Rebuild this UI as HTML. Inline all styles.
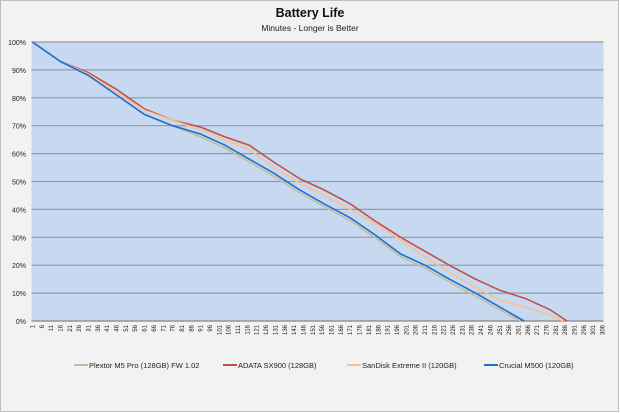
<!DOCTYPE html>
<html><head><meta charset="utf-8"><style>
body{margin:0;background:#fff;}
svg{display:block;font-family:"Liberation Sans",sans-serif;}
</style></head><body>
<svg width="620" height="413">
<rect x="0.5" y="0.5" width="618" height="411" fill="#f2f2f2" stroke="#bdbdbd"/>
<text x="310" y="17" text-anchor="middle" font-size="12.5" font-weight="bold" fill="#111">Battery Life</text>
<text x="310" y="31" text-anchor="middle" font-size="8.5" fill="#222">Minutes - Longer is Better</text>
<rect x="31.5" y="42" width="572" height="279" fill="#c6d9f1"/>
<g id="grid"></g><g id="xt"></g><g id="series"></g>
<g id="legend"></g>
</svg>
<script>
const yTicks=[0,10,20,30,40,50,60,70,80,90,100];
const nCats=306;
const plextorMin=[1,16,31,46,61,76,91,104,117,130,144,157,171,184,198,211,224,238,251,262];
const plextorPct=[100,93,88,81,74,70,66,62,57,52,46,41,36,30,23,19,14,9,4,0];
const adataMin=[1,16,31,46,61,76,91,104,117,130,144,157,171,184,198,211,224,238,251,265,278,287];
const adataPct=[100,93,89,83,76,72,69.5,66,63,57,51,47,42,36,30,25,20,15,11,8,4,0];
const sandiskMin=[1,16,31,46,61,76,91,104,117,130,144,157,171,184,198,211,224,238,251,265,278,285];
const sandiskPct=[100,93,88.5,82,75.5,72,68.5,65,61.5,55,49.5,45,40,35,29,23,17.5,12,7.5,5,2,0];
const crucialMin=[1,16,31,46,61,76,91,104,117,130,144,157,171,184,198,211,224,238,251,264];
const crucialPct=[100,93,88,81,74,70,67,63,58,53,47,42,37,31,24,20,15,10,5,0];
const names=["Plextor M5 Pro (128GB) FW 1.02","ADATA SX900 (128GB)","SanDisk Extreme II (120GB)","Crucial M500 (120GB)"];
const colors=["#c4bd97","#c0504d","#fac090","#1f6fd0"];
const L=31.5,R=603.5,T=42,B=321,NS="http://www.w3.org/2000/svg";
const xs=m=>L+(m-0.5)*(R-L)/nCats;
const ys=p=>B-p*(B-T)/100;
function mk(t,a,p){const e=document.createElementNS(NS,t);for(const k in a)e.setAttribute(k,a[k]);p.appendChild(e);return e;}
const g=document.getElementById('grid');
yTicks.forEach(v=>{
 const l=mk('line',{x1:L,x2:R,y1:ys(v),y2:ys(v),stroke:v===0?'#868686':'#929aa6','stroke-width':1.2},g);
 
 
 const t=mk('text',{x:26,y:ys(v)+3,'text-anchor':'end','font-size':7,fill:'#222'},g);
 t.textContent=v+'%';
 
 
});
const xt=document.getElementById('xt');
for(let m=1;m<=nCats;m+=5){
 const x=xs(m);
 const t=mk('text',{x:0,y:0,'font-size':6,fill:'#222','text-anchor':'end',transform:`translate(${x+2},${B+4}) rotate(-90)`},xt);
 t.textContent=m;
 
 
}
const sg=document.getElementById('series');
[[plextorMin,plextorPct],[adataMin,adataPct],[sandiskMin,sandiskPct],[crucialMin,crucialPct]].forEach((s,i)=>{
 const pts=s[0].map((m,j)=>xs(m).toFixed(1)+','+ys(s[1][j]).toFixed(1)).join(' ');
 const p=mk('polyline',{points:pts,fill:'none',stroke:colors[i],'stroke-width':1.6},sg);
 
 
});
const lg=document.getElementById('legend');
const lx=[74,223,347,484];
names.forEach((n,i)=>{
 const l=mk('line',{x1:lx[i],x2:lx[i]+14,y1:365,y2:365,stroke:colors[i],'stroke-width':2},lg);
 
 
 const t=mk('text',{x:lx[i]+15,y:368,'font-size':7.5,fill:'#222'},lg);
 t.textContent=n;
 
 
});
</script>
</body></html>
